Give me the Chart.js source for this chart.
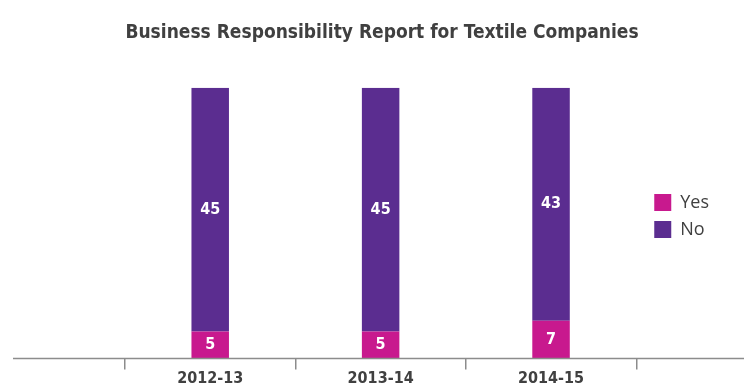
<!DOCTYPE html>
<html>
<head>
<meta charset="utf-8">
<script src="https://cdn.jsdelivr.net/npm/chart.js@4/dist/chart.umd.min.js"></script>
<style>
  html, body { margin: 0; padding: 0; background: #fff; }
  #wrap { width: 744px; height: 388px; }
</style>
</head>
<body>
<div id="wrap"><canvas id="brr"></canvas></div>
<script>
const years = ["2012-13", "2013-14", "2014-15"];
const yesCounts = [5, 5, 7];
const noCounts = [45, 45, 43];

const NARROW = "'Liberation Sans Narrow', 'DejaVu Sans Condensed', sans-serif";
const TEXT = "#404040";

// values printed in the middle of each bar segment
const segmentLabels = {
  id: "segmentLabels",
  afterDatasetsDraw(chart) {
    const ctx = chart.ctx;
    ctx.save();
    ctx.fillStyle = "#fff";
    ctx.font = "bold 16px " + NARROW;
    ctx.textAlign = "center";
    ctx.textBaseline = "middle";
    chart.data.datasets.forEach((ds, i) => {
      chart.getDatasetMeta(i).data.forEach((bar, j) => {
        const { x, y, base } = bar.getProps(["x", "y", "base"], true);
        ctx.fillText(ds.data[j], x, (y + base) / 2);
      });
    });
    ctx.restore();
  }
};

// baseline runs the full width, past the category area
const baseline = {
  id: "baseline",
  afterDraw(chart) {
    const ctx = chart.ctx;
    const y = chart.scales.x.top;
    ctx.save();
    ctx.strokeStyle = "#8c8c8c";
    ctx.lineWidth = 1.5;
    ctx.beginPath();
    ctx.moveTo(chart.chartArea.left - 112, y);
    ctx.lineTo(chart.width, y);
    ctx.stroke();
    ctx.restore();
  }
};

new Chart(document.getElementById("brr"), {
  type: "bar",
  data: {
    labels: years,
    datasets: [
      { label: "Yes", data: yesCounts, backgroundColor: "#c8198e" },
      { label: "No", data: noCounts, backgroundColor: "#5b2d90" }
    ]
  },
  options: {
    responsive: true,
    maintainAspectRatio: false,
    animation: false,
    layout: { padding: { left: 45, right: 25, top: 0, bottom: 0 } },
    datasets: { bar: { barPercentage: 0.22, categoryPercentage: 1 } },
    scales: {
      x: {
        stacked: true,
        offset: true,
        border: { display: false },
        grid: {
          offset: true,
          drawOnChartArea: false,
          drawTicks: true,
          tickLength: 11,
          color: "#8c8c8c",
          lineWidth: 1.5
        },
        ticks: {
          padding: 0,
          color: TEXT,
          font: { family: NARROW, size: 16, weight: "bold", lineHeight: 1.15 }
        }
      },
      y: {
        stacked: true,
        min: 0,
        max: 50,
        border: { display: false },
        grid: { display: false },
        ticks: { display: false },
        afterFit(s) { s.width = 80; }
      },
      y2: {
        position: "right",
        min: 0,
        max: 50,
        border: { display: false },
        grid: { display: false },
        ticks: { display: false },
        afterFit(s) { s.width = 9; }
      }
    },
    plugins: {
      title: {
        display: true,
        text: "Business Responsibility Report for Textile Companies",
        color: TEXT,
        font: { family: NARROW, size: 19, weight: "bold" },
        padding: { top: 22, bottom: 43 }
      },
      legend: {
        position: "right",
        title: { display: true, text: "", font: { size: 10 }, padding: 16 },
        labels: {
          boxWidth: 17,
          boxHeight: 17,
          padding: 9,
          color: TEXT,
          font: { family: "'Open Sans', sans-serif", size: 18 }
        }
      },
      tooltip: { enabled: false }
    }
  },
  plugins: [segmentLabels, baseline]
});
</script>
</body>
</html>
